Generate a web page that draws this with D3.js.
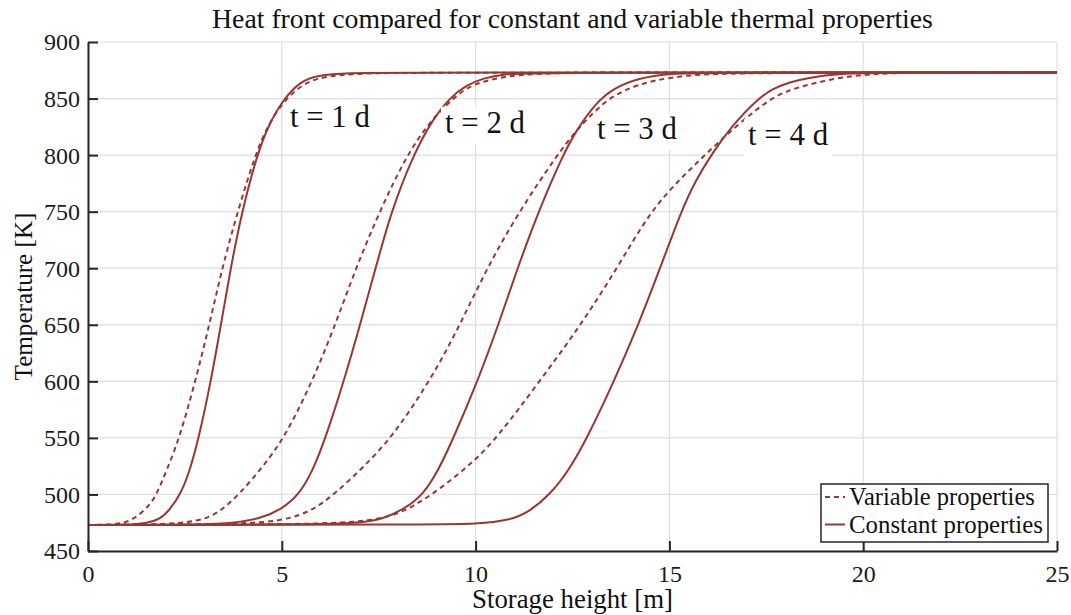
<!DOCTYPE html>
<html><head><meta charset="utf-8">
<script src="https://cdn.jsdelivr.net/npm/d3@7"></script>
<style>
body{margin:0;background:#fff}
svg{display:block}
svg text{font-family:"Liberation Serif","DejaVu Serif",serif;fill:#111}
</style>
</head><body>
<svg id="c" width="1071" height="615"></svg>
<script>
// ---- data ----
const xTicks = [0, 5, 10, 15, 20, 25];
const yTicks = [450, 500, 550, 600, 650, 700, 750, 800, 850, 900];

const constT1 = [[0,473],[1.0,473.2],[1.5,474.5],[1.86,478],[2.1,486],[2.38,500],[2.6,518],[2.86,550],[3.17,600],[3.43,650],[3.68,700],[3.97,750],[4.36,800],[4.65,826],[5.03,849],[5.47,865],[5.9,870.5],[6.7,872.6],[8,873],[25,873]];
const varT1   = [[0,473],[0.7,473.4],[1.0,475.5],[1.3,481],[1.6,491],[1.77,500],[2.05,523],[2.36,550],[2.77,600],[3.13,650],[3.46,700],[3.86,750],[4.31,800],[4.66,828],[5.08,849],[5.55,863],[6.05,869.5],[7.0,872.3],[8.5,873],[25,873]];
const constT2 = [[0,473],[3.0,473.3],[3.8,475],[4.44,478.5],[5.0,487],[5.45,500],[5.8,521],[6.13,550],[6.6,600],[7.02,650],[7.42,700],[7.82,750],[8.39,800],[8.88,831],[9.34,851],[9.77,862],[10.2,868],[10.71,871.8],[11.6,873],[25,873]];
const varT2   = [[0,473],[1.8,473.3],[2.89,476],[3.4,484.5],[3.9,500],[4.5,524],[5.07,550],[5.79,600],[6.38,650],[6.91,700],[7.52,750],[8.22,800],[8.85,831],[9.42,850],[9.86,862.3],[10.7,869.5],[11.6,872.3],[13,873],[25,873]];
const constT3 = [[0,473],[6.0,473.4],[7.0,475],[7.61,478],[8.2,488],[8.65,500],[9.05,522],[9.43,550],[10.05,600],[10.59,650],[11.08,700],[11.62,750],[12.25,800],[12.6,822],[13.1,846],[13.55,859],[14.2,868],[15.0,872.3],[16.2,873],[25,873]];
const varT3   = [[0,473],[3.5,473.4],[5.04,476],[5.8,486],[6.35,500],[7.1,524],[7.83,550],[8.82,600],[9.6,650],[10.29,700],[11.12,750],[12.1,800],[12.6,822],[13.3,847],[13.85,858],[14.55,866],[15.5,871],[16.8,872.8],[25,873]];
const constT4 = [[0,473],[9.0,473.3],[10.0,473.8],[10.89,477],[11.4,485],[11.92,500],[12.4,521],[12.88,550],[13.57,600],[14.2,650],[14.76,700],[15.3,750],[15.68,778],[16.13,803],[16.62,826],[17.25,849],[17.68,859],[18.11,864.5],[18.54,868.2],[19.4,872.2],[20.5,873],[25,873]];
const varT4   = [[0,473],[4.0,473.3],[6.0,474],[7.6,477],[8.39,489],[9.17,507],[9.98,530],[10.55,550],[11.65,600],[12.72,650],[13.65,700],[14.5,750],[15.25,778],[16.0,803],[16.8,828],[17.6,850],[18.11,857.6],[18.54,862],[19.4,868.8],[20.26,871.7],[21.1,873],[25,873]];

const variableSeries = [varT1, varT2, varT3, varT4];
const constantSeries = [constT1, constT2, constT3, constT4];

const curveLabels = ["t = 1 d", "t = 2 d", "t = 3 d", "t = 4 d"];
const labelX = [5.21, 9.21, 13.13, 17.03];
const labelY = [824.6, 819.8, 814.0, 809.0];

const legendLabels = ["Variable properties", "Constant properties"];
const titleText = "Heat front compared for constant and variable thermal properties";
const xLabelText = "Storage height [m]";
const yLabelText = "Temperature [K]";

// ---- layout ----
const FONT = '"Liberation Serif","DejaVu Serif",serif';
const svg = d3.select("#c");
const L = 88, R = 1057, T = 42, B = 551;
const color = "#9a3631";
const axisColor = "#262626";

const x = d3.scaleLinear().domain([0, 25]).range([L, R]);
const y = d3.scaleLinear().domain([450, 900]).range([B, T]);

function fit(sel, w) {
  const n = sel.node();
  const fs = parseFloat(sel.attr("font-size"));
  const len = n.getComputedTextLength();
  sel.attr("font-size", fs * w / len);
}

// grid
const grid = svg.append("g");
grid.selectAll("line.v").data(xTicks).join("line")
  .attr("x1", d => x(d)).attr("x2", d => x(d)).attr("y1", T).attr("y2", B)
  .attr("stroke", "#dedede").attr("stroke-width", 1.2);
grid.selectAll("line.h").data(yTicks).join("line")
  .attr("y1", d => y(d)).attr("y2", d => y(d)).attr("x1", L).attr("x2", R)
  .attr("stroke", "#dedede").attr("stroke-width", 1.2);

// lines
const line = d3.line().x(d => x(d[0])).y(d => y(d[1])).curve(d3.curveBasis);
svg.append("g").selectAll("path").data(variableSeries).join("path")
  .attr("d", line).attr("fill", "none").attr("stroke", color)
  .attr("stroke-width", 2).attr("stroke-dasharray", "5,4");
svg.append("g").selectAll("path").data(constantSeries).join("path")
  .attr("d", line).attr("fill", "none").attr("stroke", color)
  .attr("stroke-width", 2);

// axes
const xAxis = d3.axisBottom(x).tickValues(xTicks).tickSizeInner(-10).tickSizeOuter(0).tickPadding(14);
const yAxis = d3.axisLeft(y).tickValues(yTicks).tickSizeInner(-10).tickSizeOuter(0).tickPadding(8);
const gx = svg.append("g").attr("transform", `translate(0,${B})`).call(xAxis);
const gy = svg.append("g").attr("transform", `translate(${L},0)`).call(yAxis);
[gx, gy].forEach(g => {
  g.attr("font-family", null).attr("font-size", null);
  g.select(".domain").attr("stroke", axisColor).attr("stroke-width", 2);
  g.selectAll(".tick line").attr("stroke", axisColor).attr("stroke-width", 2);
  g.selectAll(".tick text").style("font-family", FONT).style("font-size", "24px").style("fill", "#1a1a1a");
});
gx.selectAll(".tick text").attr("dy", "0.71em");
gy.selectAll(".tick text").attr("dy", "0.33em");

// curve labels with white boxes
const lg = svg.append("g");
curveLabels.forEach((t, i) => {
  const g = lg.append("g");
  const rect = g.append("rect").attr("fill", "#fff");
  const tx = g.append("text").attr("x", x(labelX[i])).attr("y", y(labelY[i]))
    .attr("font-size", 22).text(t);
  fit(tx, 80);
  const w = tx.node().getComputedTextLength();
  rect.attr("x", x(labelX[i]) - 4).attr("y", y(labelY[i]) - 26)
    .attr("width", w + 8).attr("height", 37);
});

// legend
const leg = svg.append("g");
leg.append("rect").attr("x", 821).attr("y", 484).attr("width", 227).attr("height", 58)
  .attr("fill", "#fff").attr("stroke", axisColor).attr("stroke-width", 1.5);
const legW = [186, 194];
legendLabels.forEach((t, i) => {
  const yy = 497 + i * 27.5;
  leg.append("line").attr("x1", 825).attr("x2", 845).attr("y1", yy).attr("y2", yy)
    .attr("stroke", color).attr("stroke-width", 2)
    .attr("stroke-dasharray", i === 0 ? "5,4" : null);
  const tx = leg.append("text").attr("x", 849).attr("y", yy + 8).attr("font-size", 21).text(t);
  fit(tx, legW[i]);
});

// title & axis labels
const title = svg.append("text").attr("x", (L + R) / 2).attr("y", 28)
  .attr("text-anchor", "middle").attr("font-size", 22).text(titleText);
fit(title, 721);
const xl = svg.append("text").attr("x", (L + R) / 2).attr("y", 608)
  .attr("text-anchor", "middle").attr("font-size", 22).text(xLabelText);
fit(xl, 201);
const yl = svg.append("text").attr("transform", `translate(32,${(T + B) / 2}) rotate(-90)`)
  .attr("text-anchor", "middle").attr("font-size", 22).text(yLabelText);
fit(yl, 168);
</script>
</body></html>
